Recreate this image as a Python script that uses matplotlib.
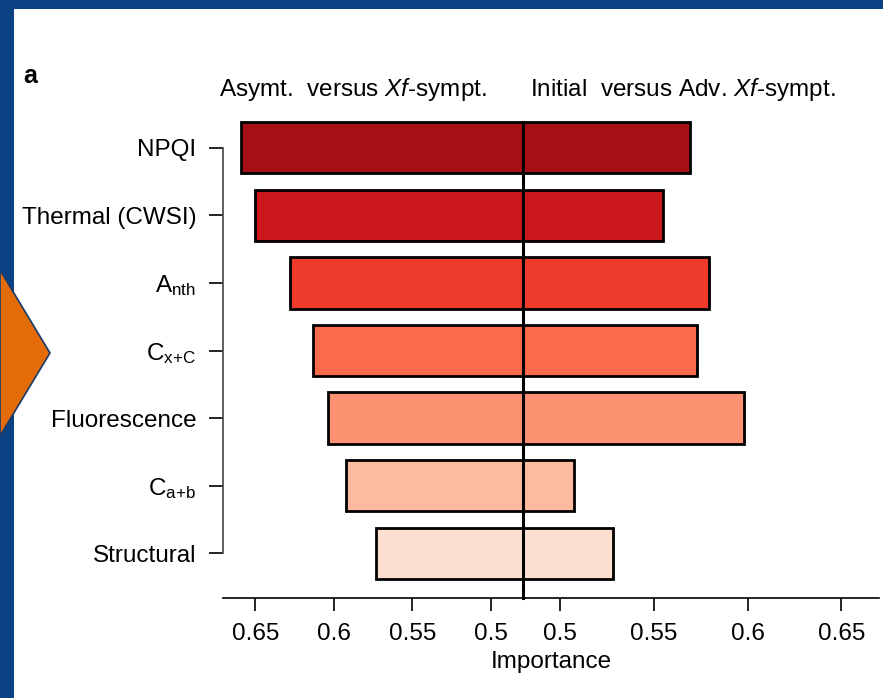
import numpy as np
import matplotlib
matplotlib.use("Agg")
import matplotlib.pyplot as plt
from matplotlib.patches import Polygon, Rectangle

plt.rcParams['font.family'] = ['Liberation Sans', 'DejaVu Sans']
plt.rcParams['mathtext.fontset'] = 'custom'
plt.rcParams['mathtext.rm'] = 'Liberation Sans'
plt.rcParams['mathtext.it'] = 'Liberation Sans:italic'
plt.rcParams['mathtext.default'] = 'regular'

# data
categories = ['NPQI', 'Thermal (CWSI)', r'A$_{nth}$', r'C$_{x{+}C}$',
              'Fluorescence', r'C$_{a{+}b}$', 'Structural']
asym_vs_sympt = [0.659, 0.650, 0.628, 0.613, 0.6035, 0.592, 0.573]
initial_vs_adv = [0.569, 0.555, 0.5795, 0.573, 0.598, 0.5075, 0.528]
colors = ['#A50F15', '#CB181D', '#EF3B2C', '#FB6A4A', '#FC9272', '#FCBBA1', '#FEE0D2']
tick_vals = [0.5, 0.55, 0.6, 0.65]
tick_labels = ['0.5', '0.55', '0.6', '0.65']
base_left = 0.4794
base_right = 0.4803

W, H = 883, 698
fig = plt.figure(figsize=(W / 100, H / 100), dpi=100)
fig.patch.set_facecolor('#0B4284')

# white slide panel + orange arrow
fig.patches.append(Rectangle((14 / W, 0), 1, 1 - 9 / H, transform=fig.transFigure,
                             facecolor='white', edgecolor='none', zorder=-3))
arrow = [(0, 1 - 270 / H), (50 / W, 1 - 353 / H), (0, 1 - 436 / H)]
fig.patches.append(Polygon(arrow, closed=True, transform=fig.transFigure,
                           facecolor='#E36C09', edgecolor='#173B6B', lw=1.2, zorder=-2))

def px_rect(x0, x1, ytop, ybot):
    return [x0 / W, 1 - ybot / H, (x1 - x0) / W, (ybot - ytop) / H]

y = np.arange(len(categories))
ylim = (6.661, -0.706)
bh = 0.76

axL = fig.add_axes(px_rect(222.6, 523.2, 100, 598))
axR = fig.add_axes(px_rect(523.2, 879, 100, 598))
for ax in (axL, axR):
    ax.set_facecolor('none')
    ax.set_ylim(*ylim)
    ax.spines['top'].set_visible(False)
    ax.spines['right'].set_visible(False)
    ax.spines['bottom'].set_linewidth(1.2)
    ax.tick_params(axis='x', length=9, width=1.2, pad=9, labelsize=17.5)
    ax.set_xticks(tick_vals)
    ax.set_xticklabels(tick_labels)

axL.set_xlim(0.6708, base_left)
axR.set_xlim(base_right, 0.6700)

axL.barh(y, np.array(asym_vs_sympt) - base_left, left=base_left, height=bh,
         color=colors, edgecolor='black', linewidth=2)
axR.barh(y, np.array(initial_vs_adv) - base_right, left=base_right, height=bh,
         color=colors, edgecolor='black', linewidth=2)

axL.set_yticks(y)
axL.set_yticklabels(categories)
axL.tick_params(axis='y', length=10, width=1.2, pad=9, labelsize=17.5)
axL.spines['left'].set_bounds(0, 6)
axL.spines['left'].set_linewidth(1.2)
axL.spines['left'].set_color('#444444')

axR.spines['left'].set_visible(False)
axR.set_yticks([])

# center line
axR.plot([base_right, base_right], [-bh / 2, ylim[0]], color='black', lw=2.2,
         clip_on=False, zorder=5)

fig.text(551 / W, 1 - 668 / H, 'Importance', ha='center', va='baseline', fontsize=17.5)
fig.text(353 / W, 1 - 96 / H, r'Asymt.  versus $\mathit{Xf}$-sympt.', ha='center',
         va='baseline', fontsize=17.5)
fig.text(683 / W, 1 - 96 / H, r'Initial  versus Adv. $\mathit{Xf}$-sympt.', ha='center',
         va='baseline', fontsize=17.5)
fig.text(23 / W, 1 - 83 / H, 'a', ha='left', va='baseline', fontsize=18, fontweight='bold')

fig.savefig('out.png', dpi=100, facecolor=fig.get_facecolor())
